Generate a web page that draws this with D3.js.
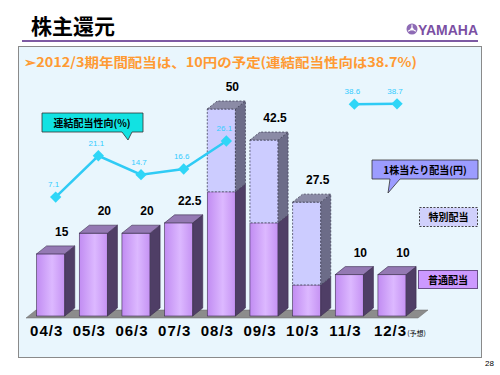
<!DOCTYPE html>
<html>
<head>
<meta charset="utf-8">
<script src="https://cdn.jsdelivr.net/npm/d3@7"></script>
<style>
  body { margin: 0; background: #fff; }
  svg { display: block; }
</style>
</head>
<body>
<svg id="canvas"></svg>
<script>
const width = 500;
const height = 375;

// data
const years = ['04/3', '05/3', '06/3', '07/3', '08/3', '09/3', '10/3', '11/3', '12/3'];
const normalDiv = [15, 20, 20, 22.5, 30, 22.5, 7.5, 10, 10];
const specialDiv = [0, 0, 0, 0, 20, 20, 20, 0, 0];
const totalLabels = ['15', '20', '20', '22.5', '50', '42.5', '27.5', '10', '10'];
const payout = [7.1, 21.1, 14.7, 16.6, 26.1, null, null, 38.6, 38.7];

const jp = '"Noto Sans CJK JP", "Noto Sans", sans-serif';
const num = '"Liberation Sans", Arial, sans-serif';
const dx = 10, dy = 8;

const svg = d3.select('#canvas').attr('width', width).attr('height', height);

// gradients
const defs = svg.append('defs');
const g1 = defs.append('linearGradient').attr('id', 'gNormal').attr('x1', 0).attr('x2', 1);
g1.append('stop').attr('offset', '0%').attr('stop-color', '#c18cf2');
g1.append('stop').attr('offset', '55%').attr('stop-color', '#dcb8ff');
g1.append('stop').attr('offset', '100%').attr('stop-color', '#c592f3');

// header
svg.append('text').attr('x', 31).attr('y', 34)
  .attr('font-family', jp).attr('font-weight', 'bold').attr('font-size', 21)
  .text('株主還元');

svg.append('line').attr('x1', 22).attr('x2', 478).attr('y1', 41).attr('y2', 41)
  .attr('stroke', '#7d5aa3').attr('stroke-width', 2);

// logo
const logo = svg.append('g').attr('transform', 'translate(412,29)');
logo.append('circle').attr('r', 5.5).attr('fill', '#8e6bb5');
[0, 120, 240].forEach(a => {
  logo.append('line').attr('x1', 0).attr('y1', 0).attr('x2', 0).attr('y2', -4.5)
    .attr('stroke', '#fff').attr('stroke-width', 1.2).attr('transform', `rotate(${a})`);
});
logo.append('circle').attr('r', 1.6).attr('fill', '#fff');
svg.append('text').attr('x', 418).attr('y', 35)
  .attr('font-family', num).attr('font-weight', 'bold').attr('font-size', 14)
  .attr('fill', '#7b4fa3').attr('textLength', 60).attr('lengthAdjust', 'spacingAndGlyphs')
  .text('YAMAHA');

// panel
svg.append('rect').attr('x', 18.5).attr('y', 46.5).attr('width', 463).attr('height', 311)
  .attr('fill', '#e9f6fd').attr('stroke', '#8a8a8a').attr('stroke-width', 1);

svg.append('text').attr('x', 485).attr('y', 366)
  .attr('font-family', num).attr('font-size', 8).text('28');

svg.append('text').attr('x', 24).attr('y', 67)
  .attr('font-family', jp).attr('font-weight', 'bold').attr('font-size', 13)
  .attr('fill', '#ff9a33').attr('textLength', 393).attr('lengthAdjust', 'spacingAndGlyphs')
  .text('➢2012/3期年間配当は、10円の予定(連結配当性向は38.7%)');

// scales
const x = d3.scaleBand().domain(years).range([29.35, 413.35]).paddingInner(0.34).paddingOuter(0.17);
const y = d3.scaleLinear().domain([0, 50]).range([316, 109]);
const yLine = d3.scaleLinear().domain([0, 40]).range([218, 100]);

// floor
const fx0 = 26, fx1 = 418;
svg.append('polygon')
  .attr('points', [[fx0, 318], [fx1, 318], [fx1 + dx, 318 - dy], [fx0 + dx, 318 - dy]].join(' '))
  .attr('fill', '#8c8c8c').attr('stroke', '#6a6a6a').attr('stroke-width', 0.5);

// 3d bars
const bars = years.map((c, i) => ({ c, n: normalDiv[i], s: specialDiv[i], label: totalLabels[i] }));

const drawBox = (g, x0, w, yBot, yTop, style, showTop) => {
  g.append('rect').attr('x', x0).attr('y', yTop).attr('width', w).attr('height', yBot - yTop)
    .attr('fill', style.front).attr('stroke', style.stroke).attr('stroke-width', style.sw)
    .attr('stroke-dasharray', style.dash);
  g.append('polygon')
    .attr('points', [[x0 + w, yTop], [x0 + w + dx, yTop - dy], [x0 + w + dx, yBot - dy], [x0 + w, yBot]].join(' '))
    .attr('fill', style.side).attr('stroke', style.stroke).attr('stroke-width', style.sw)
    .attr('stroke-dasharray', style.dash);
  if (showTop) {
    g.append('polygon')
      .attr('points', [[x0, yTop], [x0 + dx, yTop - dy], [x0 + w + dx, yTop - dy], [x0 + w, yTop]].join(' '))
      .attr('fill', style.top).attr('stroke', style.stroke).attr('stroke-width', style.sw)
      .attr('stroke-dasharray', style.dash);
  }
};

const normalStyle = { front: 'url(#gNormal)', side: '#4f3e66', top: '#9479b3', stroke: '#3a2d4d', sw: 0.6, dash: null };
const specialStyle = { front: '#ccccff', side: '#6c6c88', top: '#8b8ba6', stroke: '#44445a', sw: 0.8, dash: '2,1.5' };

const barG = svg.append('g');
bars.forEach(d => {
  const g = barG.append('g');
  const x0 = x(d.c), w = x.bandwidth();
  drawBox(g, x0, w, y(0), y(d.n), normalStyle, d.s === 0);
  if (d.s > 0) drawBox(g, x0, w, y(d.n), y(d.n + d.s), specialStyle, true);
  g.append('text')
    .attr('x', x0 + w / 2 + 11).attr('y', y(d.n + d.s) - dy - 10)
    .attr('text-anchor', 'middle')
    .attr('font-family', num).attr('font-weight', 'bold').attr('font-size', 12)
    .text(d.label);
});

// x axis
const xAxis = d3.axisBottom(x).tickSize(0).tickPadding(0);
const ax = svg.append('g').attr('transform', 'translate(-4,322)').call(xAxis);
ax.select('.domain').remove();
ax.selectAll('text')
  .attr('font-family', num).attr('font-weight', 'bold').attr('font-size', 15)
  .attr('fill', '#000').attr('dy', '0.9em').style('letter-spacing', '1px');
ax.selectAll('.tick').filter(d => d === '12/3').select('text')
  .append('tspan').attr('font-family', jp).attr('font-size', 7).attr('font-weight', 'normal')
  .style('letter-spacing', '0px').text('(予想)');
ax.selectAll('.tick').filter(d => d === '12/3').select('text').attr('text-anchor', 'start')
  .attr('x', -x.bandwidth() / 2 + 0);

// payout line
const cx = c => x(c) + x.bandwidth() / 2 + 5;
const pts = years.map((c, i) => ({ c, v: payout[i] }));
const line = d3.line().defined(d => d.v !== null).x(d => cx(d.c)).y(d => yLine(d.v));
svg.append('path').datum(pts).attr('d', line)
  .attr('fill', 'none').attr('stroke', '#2fcbf5').attr('stroke-width', 2.5);
const ptG = svg.append('g');
pts.filter(d => d.v !== null).forEach(d => {
  ptG.append('rect').attr('x', -4).attr('y', -4).attr('width', 8).attr('height', 8)
    .attr('fill', '#2fd6f7')
    .attr('transform', `translate(${cx(d.c)},${yLine(d.v)}) rotate(45)`);
  ptG.append('text').attr('x', cx(d.c) - 2).attr('y', yLine(d.v) - 10)
    .attr('text-anchor', 'middle').attr('font-family', num).attr('font-size', 8)
    .attr('fill', '#33ccff').text(d.v.toFixed(1));
});

// callouts
svg.append('path')
  .attr('d', 'M42,113 H143 V132 H132 L128,140 L122,132 H42 Z')
  .attr('fill', '#12e2e2').attr('stroke', '#333').attr('stroke-width', 0.8);
svg.append('text').attr('x', 92).attr('y', 126.5).attr('text-anchor', 'middle')
  .attr('font-family', jp).attr('font-weight', 'bold').attr('font-size', 10).text('連結配当性向(%)');

svg.append('path')
  .attr('d', 'M372,160 H478 V179 H400 L388,193 L390,179 H372 Z')
  .attr('fill', '#9c9cff').attr('stroke', '#333').attr('stroke-width', 0.8);
svg.append('text').attr('x', 425).attr('y', 173.5).attr('text-anchor', 'middle')
  .attr('font-family', jp).attr('font-weight', 'bold').attr('font-size', 10).text('1株当たり配当(円)');

svg.append('rect').attr('x', 419.5).attr('y', 207.5).attr('width', 58).attr('height', 19)
  .attr('fill', '#d0d0fb').attr('stroke', '#333').attr('stroke-width', 0.9).attr('stroke-dasharray', '2,1.5');
svg.append('text').attr('x', 448.5).attr('y', 221).attr('text-anchor', 'middle')
  .attr('font-family', jp).attr('font-weight', 'bold').attr('font-size', 10).text('特別配当');

svg.append('rect').attr('x', 418.5).attr('y', 270.5).attr('width', 59).attr('height', 18)
  .attr('fill', '#cc99ff').attr('stroke', '#6a4f8a').attr('stroke-width', 1);
svg.append('text').attr('x', 448).attr('y', 283.5).attr('text-anchor', 'middle')
  .attr('font-family', jp).attr('font-weight', 'bold').attr('font-size', 10).text('普通配当');
</script>
</body>
</html>
